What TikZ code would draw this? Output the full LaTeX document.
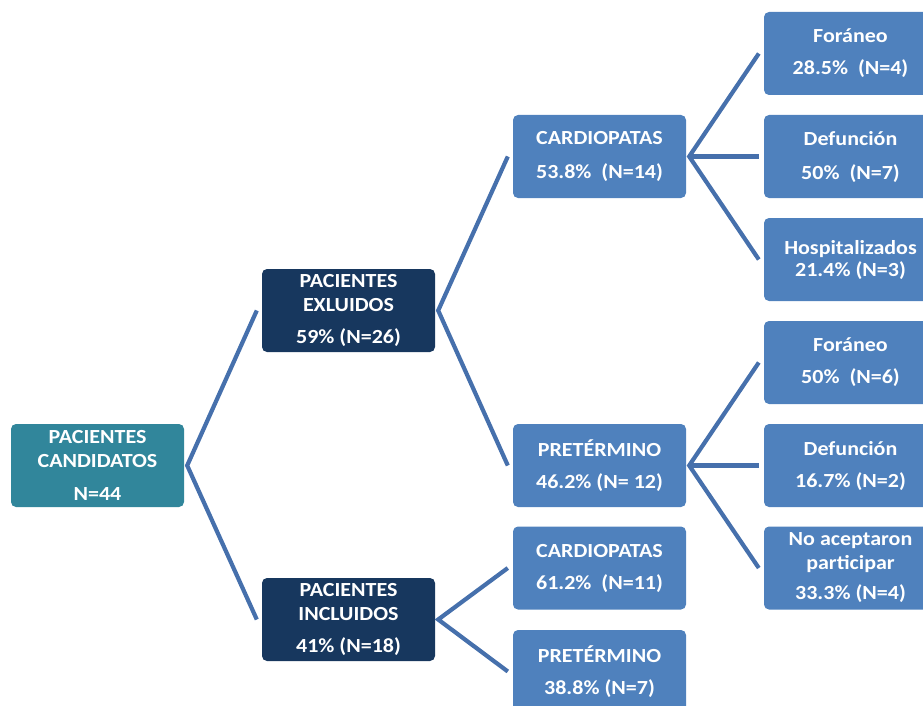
\documentclass[tikz,border=0pt]{standalone}
\usepackage{fontspec}
\setmainfont{Carlito}[FakeStretch=1.1]
\usetikzlibrary{calc}
\definecolor{teal1}{RGB}{49,134,155}
\definecolor{navy1}{RGB}{23,55,94}
\definecolor{blue1}{RGB}{79,129,189}
\definecolor{line1}{RGB}{70,112,172}
\tikzset{
  box/.style={rounded corners=5pt, minimum width=173pt, minimum height=83pt, inner sep=0pt,
    text=white, align=center, font=\bfseries\fontsize{20}{24}\selectfont},
  rootbox/.style={box, fill=teal1},
  midbox/.style={box, fill=navy1},
  leafbox/.style={box, fill=blue1},
  conn/.style={draw=line1, line width=4.2pt, miter limit=20}
}
\begin{document}
\begin{tikzpicture}[x=1pt,y=-1pt]
\useasboundingbox (0,0) rectangle (923,706);
\clip (0,0) rectangle (923,706);
\node[rootbox] (cand) at (97.5,465.5) {PACIENTES\\CANDIDATOS\\[9pt]N=44};
\node[midbox] (excl) at (348.5,310.5) {PACIENTES\\EXLUIDOS\\[8pt]59\% (N=26)};
\node[midbox] (incl) at (348.5,619.5) {PACIENTES\\INCLUIDOS\\[8pt]41\% (N=18)};
\node[leafbox] (card1) at (599.5,156.5) {CARDIOPATAS\\[10pt]53.8\%~ (N=14)};
\node[leafbox] (pret1) at (599.5,465.5) {PRETÉRMINO\\[8pt]46.2\% (N= 12)};
\node[leafbox] (card2) at (599.5,568) {CARDIOPATAS\\[8pt]61.2\%~ (N=11)};
\node[leafbox] (pret2) at (599.5,671.5) {PRETÉRMINO\\[8pt]38.8\% (N=7)};
\node[leafbox] (for1) at (850.5,53.5) {Foráneo\\[8pt]28.5\%~ (N=4)};
\node[leafbox] (def1) at (850.5,156.5) {Defunción\\[10pt]50\%~ (N=7)};
\node[leafbox] (hosp) at (850.5,259.5) {Hospitalizados\\[-2pt]21.4\% (N=3)};
\node[leafbox] (for2) at (850.5,362.5) {Foráneo\\[8pt]50\%~ (N=6)};
\node[leafbox] (def2) at (850.5,465.5) {Defunción\\[8pt]16.7\% (N=2)};
\node[leafbox] (noac) at (850.5,568) {No aceptaron\\participar\\[6pt]33.3\% (N=4)};
% connectors
\draw[conn] ($(excl.west)+(-5,0)$) -- ($(cand.east)+(3,0)$) -- ($(incl.west)+(-5,0)$);
\draw[conn] ($(card1.west)+(-5,0)$) -- ($(excl.east)+(3,0)$) -- ($(pret1.west)+(-5,0)$);
\draw[conn] ($(card2.west)+(-5,0)$) -- ($(incl.east)+(3,0)$) -- ($(pret2.west)+(-5,0)$);
\draw[conn] ($(for1.west)+(-5,0)$) -- ($(card1.east)+(3,0)$) -- ($(hosp.west)+(-5,0)$);
\draw[conn] ($(card1.east)+(3,0)$) -- ($(def1.west)+(-5,0)$);
\draw[conn] ($(for2.west)+(-5,0)$) -- ($(pret1.east)+(3,0)$) -- ($(noac.west)+(-5,0)$);
\draw[conn] ($(pret1.east)+(3,0)$) -- ($(def2.west)+(-5,0)$);
\end{tikzpicture}
\end{document}
